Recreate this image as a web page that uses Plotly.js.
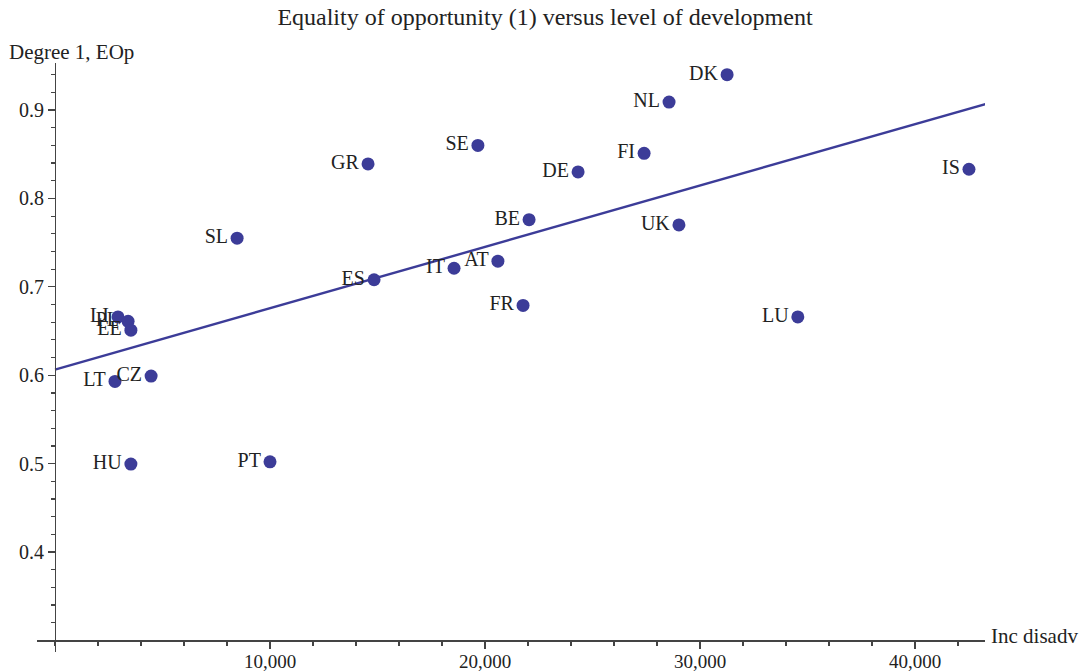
<!DOCTYPE html>
<html>
<head>
<meta charset="utf-8">
<script src="https://cdn.plot.ly/plotly-3.0.1.min.js"></script>
<style>html,body{margin:0;padding:0;background:#fff}#chart{width:1090px;height:672px}</style>
</head>
<body>
<div id="chart"></div>
<script>
// Data
const countries = ["DK","NL","SE","FI","GR","DE","IS","BE","UK","SL","AT","IT","ES","FR","LU","LI","PL","EE","CZ","LT","HU","PT"];
const incDisadv = [31260,28560,19670,27400,14560,24330,42510,22050,29020,8470,20600,18560,14840,21770,34550,2930,3400,3530,4470,2790,3530,10000];
const eop       = [0.940,0.909,0.860,0.851,0.839,0.830,0.833,0.776,0.770,0.755,0.729,0.721,0.708,0.679,0.666,0.666,0.661,0.651,0.599,0.593,0.4995,0.502];
const fitRange = [0, 43500];
const xTickVals = [10000,20000,30000,40000];
const xTickText = ["10,000","20,000","30,000","40,000"];
const yTickVals = [0.4,0.5,0.6,0.7,0.8,0.9];
const yTickText = ["0.4","0.5","0.6","0.7","0.8","0.9"];

// OLS fit from data
const n = incDisadv.length;
const mx = incDisadv.reduce((a,b)=>a+b,0)/n;
const my = eop.reduce((a,b)=>a+b,0)/n;
let sxy=0, sxx=0;
for (let i=0;i<n;i++){ sxy += (incDisadv[i]-mx)*(eop[i]-my); sxx += (incDisadv[i]-mx)**2; }
const slope = sxy/sxx, intercept = my - slope*mx;
const fitY = fitRange.map(x => intercept + slope*x);

const col = '#3c3c98';
const font = 'Liberation Serif, Times New Roman, serif';
const xr = [-837, 43256], yr = [0.2869, 0.9532];

const traces = [
  {x: fitRange, y: fitY, mode:'lines', line:{color:col, width:2.4}, hoverinfo:'skip', cliponaxis:false},
  {x: incDisadv, y: eop, mode:'markers+text', text: countries, textposition:'middle left',
   textfont:{family:font, size:20, color:'#222'},
   marker:{color:col, size:13}, cliponaxis:false}
];

const layout = {
  width:1090, height:672,
  margin:{l:37, r:105, t:63, b:20},
  showlegend:false,
  paper_bgcolor:'#fff', plot_bgcolor:'#fff',
  font:{family:font, color:'#222'},
  title:{text:'Equality of opportunity (1) versus level of development', font:{family:font, size:24, color:'#222'},
         xref:'container', yref:'container', x:0.5, y:1-17/672, xanchor:'center', yanchor:'middle'},
  xaxis:{range:xr, anchor:'free', position:(0.3-yr[0])/(yr[1]-yr[0]),
         showgrid:false, zeroline:false, showline:true, linecolor:'#444', linewidth:1.2,
         tickmode:'array', tickvals:xTickVals, ticktext:xTickText,
         ticks:'outside', ticklen:7, tickcolor:'#444', tickwidth:1.2, ticklabelstandoff:-3,
         tickfont:{family:font, size:19, color:'#222'},
         minor:{tickmode:'linear', tick0:0, dtick:2000, ticks:'outside', ticklen:4, tickcolor:'#444', tickwidth:1.2}},
  yaxis:{range:yr, anchor:'free', position:(0-xr[0])/(xr[1]-xr[0]),
         showgrid:false, zeroline:false, showline:true, linecolor:'#444', linewidth:1.2,
         tickmode:'array', tickvals:yTickVals, ticktext:yTickText,
         ticks:'outside', ticklen:7, tickcolor:'#444', tickwidth:1.2,
         tickfont:{family:font, size:20, color:'#222'},
         minor:{tickmode:'linear', tick0:0, dtick:0.02, ticks:'outside', ticklen:4, tickcolor:'#444', tickwidth:1.2}},
  annotations:[
    {text:'Degree 1, EOp', xref:'paper', yref:'paper', x:(7-37)/948, y:1+(63-52)/589, xanchor:'left', yanchor:'middle',
     showarrow:false, font:{family:font, size:21, color:'#222'}},
    {text:'Inc disadv', xref:'paper', yref:'paper', x:(989-37)/948, y:(652-636)/589, xanchor:'left', yanchor:'middle',
     showarrow:false, font:{family:font, size:21, color:'#222'}}
  ]
};

Plotly.newPlot('chart', traces, layout, {displayModeBar:false, staticPlot:true});
</script>
</body>
</html>
